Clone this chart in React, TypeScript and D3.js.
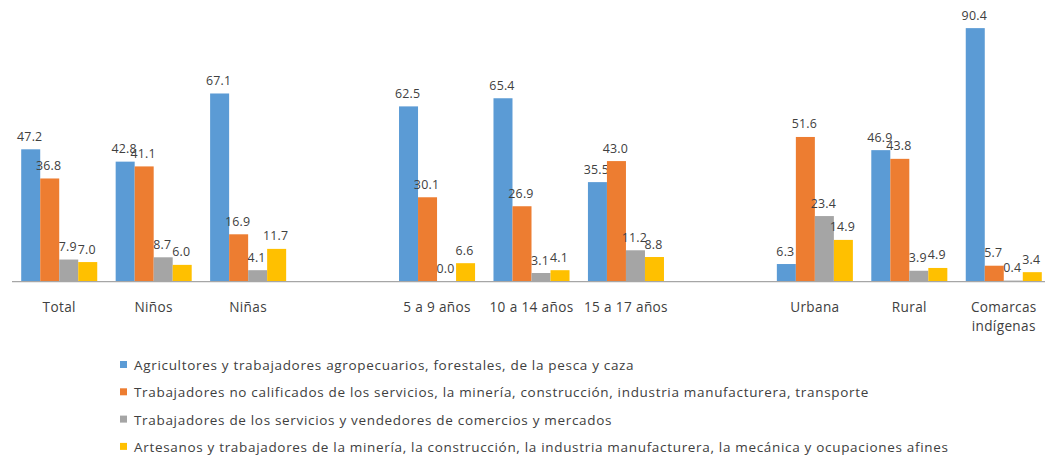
import React from "react";
import * as d3 from "d3";

const categories = ["Total", "Niños", "Niñas", "", "5 a 9 años", "10 a 14 años", "15 a 17 años", " ", "Urbana", "Rural", "Comarcas indígenas"];
const seriesNames = [
  "Agricultores y trabajadores agropecuarios, forestales, de la pesca y caza",
  "Trabajadores no calificados de los servicios, la minería, construcción, industria manufacturera,  transporte",
  "Trabajadores de los servicios y vendedores de comercios y mercados",
  "Artesanos y trabajadores de la minería, la construcción, la industria manufacturera, la mecánica y ocupaciones afines",
];
const agricultores = [47.2, 42.8, 67.1, null, 62.5, 65.4, 35.5, null, 6.3, 46.9, 90.4];
const noCalificados = [36.8, 41.1, 16.9, null, 30.1, 26.9, 43.0, null, 51.6, 43.8, 5.7];
const servicios = [7.9, 8.7, 4.1, null, 0.0, 3.1, 11.2, null, 23.4, 3.9, 0.4];
const artesanos = [7.0, 6.0, 11.7, null, 6.6, 4.1, 8.8, null, 14.9, 4.9, 3.4];
const colors = ["#5B9BD5", "#ED7D31", "#A5A5A5", "#FFC000"];

const W = 1045;
const H = 458;

export default function App() {
  const series = [agricultores, noCalificados, servicios, artesanos];
  const x0 = d3.scaleBand<string>().domain(categories).range([12, 1051]).paddingInner(0.195).paddingOuter(0.0975);
  const x1 = d3.scaleBand<number>().domain([0, 1, 2, 3]).range([0, x0.bandwidth()]);
  const y = d3.scaleLinear().domain([0, 100]).range([281.7, 1.2]);
  const font = "'Open Sans', 'DejaVu Sans', sans-serif";

  return (
    <svg width={W} height={H} style={{ position: "absolute", left: 0, top: 0, background: "#fff" }} fontFamily={font}>
      {categories.map((c, ci) => (
        <g key={ci} transform={`translate(${x0(c)},0)`}>
          {series.map((s, si) => {
            const v = s[ci];
            if (v === null) return null;
            const bx = x1(si)!;
            return (
              <g key={si}>
                <rect x={bx} y={y(v)} width={x1.bandwidth()} height={y(0) - y(v)} fill={colors[si]} />
                <text x={bx + x1.bandwidth() / 2 - 1} y={y(v) - 8.5} textAnchor="middle" fontSize={12.4} letterSpacing={0.2} fill="#404040">
                  {v.toFixed(1)}
                </text>
              </g>
            );
          })}
        </g>
      ))}
      <line x1={12} x2={W} y1={y(0)} y2={y(0)} stroke="#A6A6A6" strokeWidth={1.3} />
      {categories.map((c, ci) => {
        const words = c.trim() === "" ? [] : c === "Comarcas indígenas" ? ["Comarcas", "indígenas"] : [c];
        return (
          <text key={ci} x={x0(c)! + x0.bandwidth() / 2} y={312} textAnchor="middle" fontSize={13.6} letterSpacing={0.35} fill="#404040">
            {words.map((w, wi) => (
              <tspan key={wi} x={x0(c)! + x0.bandwidth() / 2} dy={wi === 0 ? 0 : 18.5}>{w}</tspan>
            ))}
          </text>
        );
      })}
      {seriesNames.map((n, i) => (
        <g key={i} transform={`translate(120,${365 + i * 27.3})`}>
          <rect x={0} y={-4} width={7} height={7} fill={colors[i]} />
          <text x={14} y={5} fontSize={13.5} letterSpacing={0.68} fill="#404040">{n}</text>
        </g>
      ))}
    </svg>
  );
}
